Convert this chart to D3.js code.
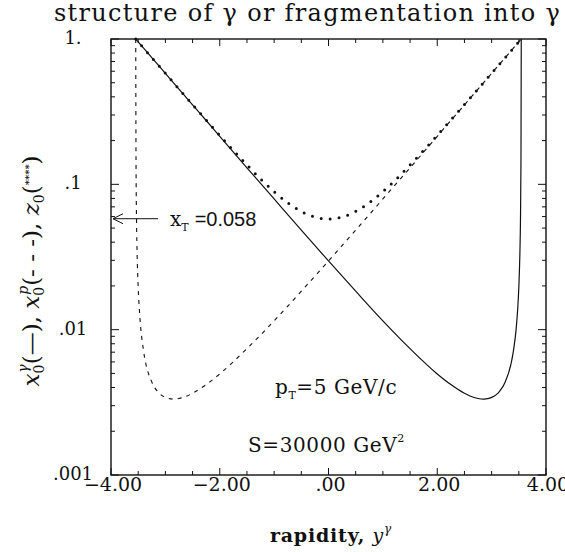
<!DOCTYPE html>
<html>
<head>
<meta charset="utf-8">
<script src="https://cdn.jsdelivr.net/npm/d3@7"></script>
<style>
  html, body { margin: 0; padding: 0; background: #fff; }
  svg { display: block; }
  text { fill: #111; }
</style>
</head>
<body>
<svg id="chart" width="565" height="552"></svg>
<script>
// Momentum fractions versus photon rapidity (p_T = 5 GeV/c, S = 30000 GeV^2)

// x0 of the photon structure (solid)
const rapGamma = [-3.545, -3.5, -3.4, -3.25, -3.0, -2.75, -2.5, -2.25, -2.0, -1.5, -1.0, -0.5, 0.0,
                  0.5, 1.0, 1.5, 2.0, 2.25, 2.5, 2.6, 2.75, 2.85, 2.95, 3.0, 3.08, 3.15, 3.25, 3.4, 3.45, 3.48, 3.5, 3.52, 3.53, 3.54, 3.545];
const x0Gamma  = [1.0, 0.956, 0.865, 0.745, 0.580, 0.452, 0.352, 0.275, 0.214, 0.130, 0.0793, 0.0484, 0.0297,
                  0.0184, 0.0115, 0.0074, 0.00496, 0.00419, 0.00365, 0.00350, 0.00336, 0.00333, 0.00337, 0.00342, 0.00356, 0.00378, 0.00437, 0.0071, 0.0100, 0.0140, 0.0195, 0.0337, 0.0545, 0.151, 1.0];

// x0 of the proton (dashed)
const rapProton = [-3.545, -3.54, -3.53, -3.52, -3.5, -3.48, -3.45, -3.4, -3.25, -3.15, -3.08, -3.0, -2.95, -2.85, -2.75, -2.6, -2.5, -2.25, -2.0,
                   -1.5, -1.0, -0.5, 0.0, 0.5, 1.0, 1.5, 2.0, 2.25, 2.5, 2.75, 3.0, 3.25, 3.4, 3.5, 3.545];
const x0Proton  = [1.0, 0.151, 0.0545, 0.0337, 0.0195, 0.0140, 0.0100, 0.0071, 0.00437, 0.00378, 0.00356, 0.00342, 0.00337, 0.00333, 0.00336, 0.00350, 0.00365, 0.00419, 0.00496,
                   0.0074, 0.0115, 0.0184, 0.0297, 0.0484, 0.0793, 0.130, 0.214, 0.275, 0.352, 0.452, 0.580, 0.745, 0.865, 0.956, 1.0];

// z0 for fragmentation into the photon (dotted)
const rapFrag = [-3.545, -3.5, -3.25, -3.0, -2.75, -2.5, -2.25, -2.0, -1.75, -1.5, -1.25, -1.0, -0.75, -0.5, -0.25, 0.0,
                 0.25, 0.5, 0.75, 1.0, 1.25, 1.5, 1.75, 2.0, 2.25, 2.5, 2.75, 3.0, 3.25, 3.5, 3.545];
const z0Frag   = [1.0, 0.956, 0.745, 0.581, 0.453, 0.354, 0.277, 0.217, 0.171, 0.136, 0.109, 0.0890, 0.0747, 0.0651, 0.0595, 0.0577,
                 0.0595, 0.0651, 0.0747, 0.0890, 0.109, 0.136, 0.171, 0.217, 0.277, 0.354, 0.453, 0.581, 0.745, 0.956, 1.0];

const xT = 0.058;

// axis ticks
const xMajorTicks = [-4, -2, 0, 2, 4];
const xTickLabels = ["\u22124.00", "\u22122.00", ".00", "2.00", "4.00"];
const xMinorTicks = [-3.5, -3, -2.5, -1.5, -1, -0.5, 0.5, 1, 1.5, 2.5, 3, 3.5];
const yMajorTicks = [1, 0.1, 0.01, 0.001];
const yTickLabels = ["1.", ".1", ".01", ".001"];

const W = 565, H = 552;
const frame = { left: 111, right: 546, top: 39, bottom: 475 };

const svg = d3.select("#chart");
const serif = "'DejaVu Serif', 'Liberation Serif', serif";

const x = d3.scaleLinear().domain([-4, 4]).range([frame.left, frame.right]);
const y = d3.scaleLog().domain([0.001, 1]).range([frame.bottom, frame.top]);

// frame
svg.append("rect")
  .attr("x", frame.left).attr("y", frame.top)
  .attr("width", frame.right - frame.left).attr("height", frame.bottom - frame.top)
  .attr("fill", "none").attr("stroke", "#111").attr("stroke-width", 1.4);

const ticks = svg.append("g").attr("stroke", "#111").attr("stroke-width", 1);

// x ticks, inward on bottom and top
const xTickList = xMajorTicks.map(v => ({ v, len: 7 })).concat(xMinorTicks.map(v => ({ v, len: 4 })));
xTickList.forEach(t => {
  ticks.append("line").attr("x1", x(t.v)).attr("x2", x(t.v))
    .attr("y1", frame.bottom).attr("y2", frame.bottom - t.len);
  ticks.append("line").attr("x1", x(t.v)).attr("x2", x(t.v))
    .attr("y1", frame.top).attr("y2", frame.top + t.len);
});

// log ticks, inward on left and right
const yTickList = [];
yMajorTicks.forEach(v => yTickList.push({ v, len: 8 }));
[0.001, 0.01, 0.1].forEach(dec => {
  for (let k = 2; k <= 9; k++) yTickList.push({ v: dec * k, len: 4 });
});
yTickList.forEach(t => {
  ticks.append("line").attr("x1", frame.left).attr("x2", frame.left + t.len)
    .attr("y1", y(t.v)).attr("y2", y(t.v));
  ticks.append("line").attr("x1", frame.right).attr("x2", frame.right - t.len)
    .attr("y1", y(t.v)).attr("y2", y(t.v));
});

// tick labels
svg.append("g").selectAll("text").data(xMajorTicks).join("text")
  .attr("x", d => x(d) + 2).attr("y", frame.bottom + 16)
  .attr("text-anchor", "middle")
  .attr("font-family", serif).attr("font-size", 19)
  .text((d, i) => xTickLabels[i]);

svg.append("g").selectAll("text").data(yMajorTicks).join("text")
  .attr("x", 73).attr("y", d => y(d) + 5)
  .attr("text-anchor", "middle")
  .attr("font-family", serif).attr("font-size", 18)
  .text((d, i) => yTickLabels[i]);

// curves
const line = d3.line()
  .x(d => x(d[0])).y(d => y(d[1]))
  .curve(d3.curveMonotoneX);

const plot = svg.append("g");
plot.append("path")
  .datum(rapGamma.map((r, i) => [r, x0Gamma[i]]))
  .attr("d", line).attr("fill", "none")
  .attr("stroke", "#111").attr("stroke-width", 1.2);

plot.append("path")
  .datum(rapProton.map((r, i) => [r, x0Proton[i]]))
  .attr("d", line).attr("fill", "none")
  .attr("stroke", "#111").attr("stroke-width", 1.1)
  .attr("stroke-dasharray", "4 5");

plot.append("path")
  .datum(rapFrag.map((r, i) => [r, z0Frag[i]]))
  .attr("d", line).attr("fill", "none")
  .attr("stroke", "#111").attr("stroke-width", 3)
  .attr("stroke-linecap", "round")
  .attr("stroke-dasharray", "0 9");

// x_T marker arrow
const ay = y(xT);
const arrow = svg.append("g").attr("stroke", "#111").attr("stroke-width", 1).attr("fill", "none");
arrow.append("line").attr("x1", frame.left + 2).attr("x2", frame.left + 47).attr("y1", ay).attr("y2", ay);
arrow.append("path").attr("d", `M${frame.left + 12},${ay - 5} L${frame.left + 2},${ay} L${frame.left + 12},${ay + 5}`);

const xtLabel = svg.append("text").attr("x", 170).attr("y", ay + 7)
  .attr("font-family", serif).attr("font-size", 20);
xtLabel.append("tspan").text("x");
xtLabel.append("tspan").attr("font-size", 11).attr("dy", 5).text("T");
xtLabel.append("tspan").attr("dy", -5).attr("dx", 6)
  .attr("font-family", "'Liberation Sans', Arial, sans-serif").text("=" + xT.toFixed(3));

// kinematic annotations
const pt = svg.append("text").attr("x", 275).attr("y", 394)
  .attr("font-family", serif).attr("font-size", 20).attr("letter-spacing", 0.6);
pt.append("tspan").text("p");
pt.append("tspan").attr("font-size", 11).attr("dy", 5).text("T");
pt.append("tspan").attr("dy", -5).text("=5 GeV/c");

const sLab = svg.append("text").attr("x", 248).attr("y", 452)
  .attr("font-family", serif).attr("font-size", 20).attr("letter-spacing", 0.6);
sLab.append("tspan").text("S=30000 GeV");
sLab.append("tspan").attr("font-size", 11).attr("dy", -10).text("2");

// title
svg.append("text").attr("x", 54).attr("y", 21)
  .attr("font-family", serif).attr("font-size", 24).attr("letter-spacing", 1.3)
  .text("structure of \u03b3 or fragmentation into \u03b3");

// x axis title
const xt = svg.append("text").attr("x", 331).attr("y", 542)
  .attr("text-anchor", "middle").attr("font-family", serif).attr("font-size", 19)
  .attr("letter-spacing", 0.8);
xt.append("tspan").attr("font-weight", "bold").text("rapidity, ");
xt.append("tspan").attr("font-style", "italic").text("y");
xt.append("tspan").attr("font-size", 12).attr("dy", -9).attr("font-style", "italic").text("\u03b3");

// y axis title
const yt = svg.append("text")
  .attr("transform", "translate(39,271) rotate(-90)")
  .attr("text-anchor", "middle").attr("font-family", serif).attr("font-size", 23);
yt.append("tspan").attr("font-style", "italic").text("x");
yt.append("tspan").attr("font-size", 14).attr("dy", 5).text("0");
yt.append("tspan").attr("font-size", 14).attr("font-style", "italic").attr("dx", -8).attr("dy", -16).text("\u03b3");
yt.append("tspan").attr("dy", 11).text("(\u2014), ");
yt.append("tspan").attr("font-style", "italic").text("x");
yt.append("tspan").attr("font-size", 14).attr("dy", 5).text("0");
yt.append("tspan").attr("font-size", 14).attr("font-style", "italic").attr("dx", -8).attr("dy", -16).text("p");
yt.append("tspan").attr("dy", 11).text("(- - -), ");
yt.append("tspan").attr("font-style", "italic").text("z");
yt.append("tspan").attr("font-size", 14).attr("dy", 5).text("0");
yt.append("tspan").attr("dy", -5).text("(");
yt.append("tspan").attr("font-size", 10).attr("font-weight", "bold").attr("dy", -7).text("****");
yt.append("tspan").attr("dy", 7).text(")");
</script>
</body>
</html>
